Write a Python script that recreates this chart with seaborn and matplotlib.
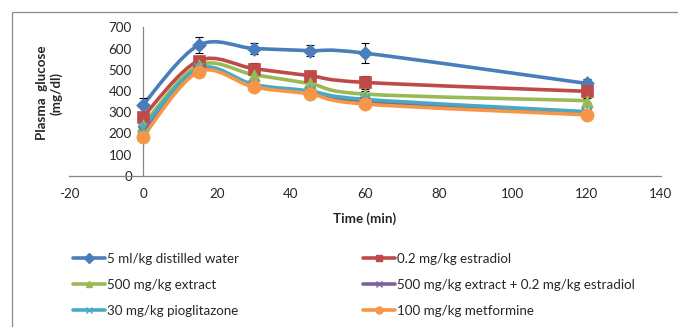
import numpy as np
import pandas as pd
import matplotlib
matplotlib.use("Agg")
import matplotlib.pyplot as plt
from matplotlib.path import Path
from matplotlib.patches import PathPatch, Rectangle
from matplotlib.lines import Line2D
import seaborn as sns

# ---------------- data ----------------
time_min = [0, 15, 30, 45, 60, 120]
series_names = [
    "5 ml/kg distilled water",
    "0.2 mg/kg estradiol",
    "500 mg/kg extract",
    "500 mg/kg extract + 0.2 mg/kg estradiol",
    "30 mg/kg pioglitazone",
    "100 mg/kg metformine",
]
water = [335, 615, 600, 590, 578, 435]
estradiol = [278, 542, 505, 472, 440, 398]
extract = [240, 520, 476, 435, 385, 354]
extract_estradiol = [212, 496, 424, 393, 346, 294]
pioglitazone = [224, 506, 430, 400, 360, 302]
metformine = [184, 490, 418, 386, 338, 287]

water_err = [33, 38, 25, 25, 48, 20]
estradiol_err = [22, 15, 25, 20, 30, 15]
extract_err = [18, 14, 15, 15, 15, 12]
extract_estradiol_err = [15, 14, 12, 12, 12, 10]
pioglitazone_err = [15, 14, 12, 12, 12, 10]
metformine_err = [14, 12, 12, 12, 12, 10]

x_ticks = [-20, 0, 20, 40, 60, 80, 100, 120, 140]
y_ticks = [0, 100, 200, 300, 400, 500, 600, 700]

values = [water, estradiol, extract, extract_estradiol, pioglitazone, metformine]
errors = [water_err, estradiol_err, extract_err, extract_estradiol_err,
          pioglitazone_err, metformine_err]

colors = ["#4A7EBB", "#BE4B48", "#98B954", "#7D60A0", "#46AAC5", "#F79646"]
markers = ["D", "s", "^", "x", "*", "o"]
msizes = [7, 8.5, 8.5, 7, 8, 9.5]

rows = []
for name, v, e in zip(series_names, values, errors):
    for t, yv, ev in zip(time_min, v, e):
        rows.append({"Time": t, "Glucose": yv, "Err": ev, "Group": name})
df = pd.DataFrame(rows)

# ---------------- style ----------------
sns.set_theme(style="white")
plt.rcParams["font.family"] = ["Lato", "DejaVu Sans"]
FS = 9.6
axis_col = "#868686"
text_col = "#262626"

fig = plt.figure(figsize=(6.78, 3.27), dpi=100)
# chart area border (Excel-like)
fig.patches.append(Rectangle((12 / 678, -0.05), 1.0, 1 - 12 / 327 + 0.05,
                             transform=fig.transFigure, fill=False,
                             edgecolor="#8C8C8C", linewidth=0.9, zorder=0))

ax = fig.add_axes([69 / 678, 1 - 175.7 / 327, (661 - 69) / 678,
                   (175.7 - 27.3) / 327])
ax.set_xlim(-20, 140)
ax.set_ylim(0, 700)


def smooth_path(xs, ys):
    """Excel-style smoothed line: cubic Bezier with Catmull-Rom handles."""
    pts = np.column_stack([xs, ys]).astype(float)
    n = len(pts)
    verts = [tuple(pts[0])]
    codes = [Path.MOVETO]
    for i in range(n - 1):
        p0 = pts[i - 1] if i > 0 else pts[i]
        p1 = pts[i]
        p2 = pts[i + 1]
        p3 = pts[i + 2] if i + 2 < n else pts[i + 1]
        c1 = p1 + (p2 - p0) / 6.0
        c2 = p2 - (p3 - p1) / 6.0
        verts += [tuple(c1), tuple(c2), tuple(p2)]
        codes += [Path.CURVE4] * 3
    return Path(verts, codes)


LW = 2.6
# lines (smoothed) and error bars
for i, name in enumerate(series_names):
    sub = df[df["Group"] == name]
    col = colors[i]
    patch = PathPatch(smooth_path(sub["Time"].values, sub["Glucose"].values),
                      facecolor="none", edgecolor=col, linewidth=LW,
                      capstyle="round", joinstyle="round", zorder=2 + i * 0.1)
    ax.add_patch(patch)
    ax.errorbar(sub["Time"], sub["Glucose"], yerr=sub["Err"], fmt="none",
                ecolor="black", elinewidth=0.8, capsize=3, capthick=0.8,
                zorder=3 + i * 0.1)

# markers
for i, name in enumerate(series_names):
    sub = df[df["Group"] == name]
    m = markers[i]
    if m == "x":
        ax.plot(sub["Time"], sub["Glucose"], linestyle="none", marker="x",
                color=colors[i], markersize=msizes[i], markeredgewidth=1.2,
                zorder=4 + i * 0.1)
    elif m == "*":
        ax.plot(sub["Time"], sub["Glucose"], linestyle="none", marker="x",
                color=colors[i], markersize=msizes[i] - 1, markeredgewidth=1.2,
                zorder=4 + i * 0.1)
        ax.plot(sub["Time"], sub["Glucose"], linestyle="none", marker="|",
                color=colors[i], markersize=msizes[i], markeredgewidth=1.2,
                zorder=4 + i * 0.1)
    else:
        sns.scatterplot(data=sub, x="Time", y="Glucose", color=colors[i],
                        marker=m, s=msizes[i] ** 2, edgecolor=colors[i],
                        linewidth=0.5, ax=ax, zorder=4 + i * 0.1, legend=False)

# axes styling (Excel: axes cross at x=0, y=0)
for s in ["top", "right"]:
    ax.spines[s].set_visible(False)
ax.spines["left"].set_position(("data", 0))
ax.spines["bottom"].set_position(("data", 0))
for s in ["left", "bottom"]:
    ax.spines[s].set_color(axis_col)
    ax.spines[s].set_linewidth(0.9)
ax.set_xticks(x_ticks)
ax.set_yticks(y_ticks)
ax.set_xticklabels([str(t) for t in x_ticks])
ax.set_yticklabels([str(t) for t in y_ticks])
ax.tick_params(axis="both", which="major", direction="out", length=4,
               width=0.9, color=axis_col, labelsize=FS, labelcolor=text_col)
ax.tick_params(axis="x", pad=5)
ax.tick_params(axis="y", pad=4)
ax.set_xlabel("")
ax.set_ylabel("")
ax.grid(False)
ax.patch.set_alpha(0)

fig.text(365 / 678, 1 - 219 / 327, "Time (min)", ha="center", va="center",
         fontsize=FS, fontweight="bold", color=text_col)
fig.text(49 / 678, 1 - 93 / 327, "Plasma  glucose\n(mg/dl)", ha="center",
         va="center", rotation=90, fontsize=FS, fontweight="bold",
         color=text_col, linespacing=1.15)

# legend (two columns, row-major like Excel)
handles = []
for i, name in enumerate(series_names):
    m = "x" if markers[i] == "*" else markers[i]
    handles.append(Line2D([0], [0], color=colors[i], linewidth=LW, marker=m,
                          markersize=5, markeredgecolor=colors[i],
                          markerfacecolor=colors[i], markeredgewidth=1.0))
order = [0, 2, 4, 1, 3, 5]
leg = fig.legend([handles[k] for k in order], [series_names[k] for k in order],
                 ncol=2, loc="upper left",
                 bbox_to_anchor=(73 / 678, 1 - 253 / 327),
                 frameon=False, fontsize=FS, handlelength=2.4,
                 handletextpad=0.15, columnspacing=9.3, labelspacing=1.05,
                 borderaxespad=0, borderpad=0)
for t in leg.get_texts():
    t.set_color(text_col)

fig.savefig("out.png", dpi=100)
